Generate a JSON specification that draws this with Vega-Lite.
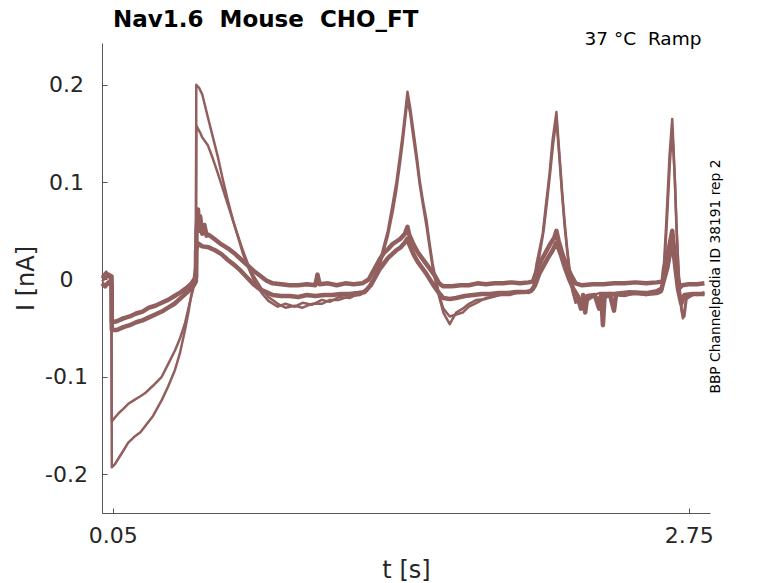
{
  "$schema": "https://vega.github.io/schema/vega-lite/v6.json",
  "description": "Nav1.6 Mouse CHO_FT ramp protocol current traces",
  "width": 608,
  "height": 470,
  "autosize": {"type": "none"},
  "padding": {"left": 102, "top": 43, "right": 68, "bottom": 70},
  "title": {
    "text": "Nav1.6 \u00a0Mouse \u00a0CHO_FT",
    "anchor": "start",
    "frame": "group",
    "dx": 11,
    "dy": 14,
    "offset": 12,
    "font": "DejaVu Sans",
    "fontSize": 23,
    "fontWeight": "bold",
    "color": "#000000"
  },
  "config": {
    "view": {"stroke": null},
    "font": "DejaVu Sans",
    "axis": {
      "grid": false,
      "domainColor": "#555555",
      "tickColor": "#555555",
      "tickSize": -5,
      "labelColor": "#262626",
      "titleColor": "#262626",
      "labelFont": "DejaVu Sans",
      "titleFont": "DejaVu Sans",
      "labelFontSize": 22,
      "titleFontSize": 24,
      "titleFontWeight": "normal"
    }
  },
  "datasets": {
    "notes": [
      {"label": "37 °C \u00a0Ramp", "kind": "condition"},
      {"label": "BBP Channelpedia ID 38191 rep 2", "kind": "source"}
    ],
    "traces": [
      {"trace": "S1", "t": 0, "i": 0.004}, {"trace": "S1", "t": 0.015, "i": 0.002}, {"trace": "S1", "t": 0.03, "i": 0.005},
      {"trace": "S1", "t": 0.045, "i": 0.003}, {"trace": "S1", "t": 0.046, "i": -0.044}, {"trace": "S1", "t": 0.07, "i": -0.043},
      {"trace": "S1", "t": 0.1, "i": -0.04}, {"trace": "S1", "t": 0.13, "i": -0.038}, {"trace": "S1", "t": 0.16, "i": -0.035},
      {"trace": "S1", "t": 0.19, "i": -0.033}, {"trace": "S1", "t": 0.22, "i": -0.029}, {"trace": "S1", "t": 0.25, "i": -0.027},
      {"trace": "S1", "t": 0.28, "i": -0.024}, {"trace": "S1", "t": 0.31, "i": -0.021}, {"trace": "S1", "t": 0.34, "i": -0.017},
      {"trace": "S1", "t": 0.37, "i": -0.013}, {"trace": "S1", "t": 0.4, "i": -0.008}, {"trace": "S1", "t": 0.42, "i": -0.004},
      {"trace": "S1", "t": 0.435, "i": 0.001}, {"trace": "S1", "t": 0.44, "i": 0.01}, {"trace": "S1", "t": 0.441, "i": 0.002},
      {"trace": "S1", "t": 0.443, "i": 0.05}, {"trace": "S1", "t": 0.45, "i": 0.072}, {"trace": "S1", "t": 0.455, "i": 0.05},
      {"trace": "S1", "t": 0.46, "i": 0.065}, {"trace": "S1", "t": 0.47, "i": 0.047}, {"trace": "S1", "t": 0.48, "i": 0.056},
      {"trace": "S1", "t": 0.49, "i": 0.045}, {"trace": "S1", "t": 0.5, "i": 0.046}, {"trace": "S1", "t": 0.53, "i": 0.041},
      {"trace": "S1", "t": 0.56, "i": 0.036}, {"trace": "S1", "t": 0.59, "i": 0.032}, {"trace": "S1", "t": 0.62, "i": 0.027},
      {"trace": "S1", "t": 0.65, "i": 0.021}, {"trace": "S1", "t": 0.68, "i": 0.015}, {"trace": "S1", "t": 0.71, "i": 0.009},
      {"trace": "S1", "t": 0.74, "i": 0.004}, {"trace": "S1", "t": 0.77, "i": -0.001}, {"trace": "S1", "t": 0.8, "i": -0.004},
      {"trace": "S1", "t": 0.84, "i": -0.005}, {"trace": "S1", "t": 0.88, "i": -0.006}, {"trace": "S1", "t": 0.92, "i": -0.006},
      {"trace": "S1", "t": 0.96, "i": -0.005}, {"trace": "S1", "t": 1.0, "i": -0.006}, {"trace": "S1", "t": 1.01, "i": 0.005},
      {"trace": "S1", "t": 1.02, "i": -0.005}, {"trace": "S1", "t": 1.06, "i": -0.004}, {"trace": "S1", "t": 1.1, "i": -0.006},
      {"trace": "S1", "t": 1.14, "i": -0.004}, {"trace": "S1", "t": 1.18, "i": -0.005}, {"trace": "S1", "t": 1.22, "i": -0.004},
      {"trace": "S1", "t": 1.25, "i": 0.0}, {"trace": "S1", "t": 1.28, "i": 0.012}, {"trace": "S1", "t": 1.3, "i": 0.02},
      {"trace": "S1", "t": 1.32, "i": 0.027}, {"trace": "S1", "t": 1.34, "i": 0.031}, {"trace": "S1", "t": 1.36, "i": 0.036},
      {"trace": "S1", "t": 1.38, "i": 0.039}, {"trace": "S1", "t": 1.4, "i": 0.042}, {"trace": "S1", "t": 1.42, "i": 0.047},
      {"trace": "S1", "t": 1.432, "i": 0.054}, {"trace": "S1", "t": 1.44, "i": 0.046}, {"trace": "S1", "t": 1.46, "i": 0.036},
      {"trace": "S1", "t": 1.48, "i": 0.028}, {"trace": "S1", "t": 1.5, "i": 0.022}, {"trace": "S1", "t": 1.52, "i": 0.016},
      {"trace": "S1", "t": 1.54, "i": 0.01}, {"trace": "S1", "t": 1.56, "i": 0.004}, {"trace": "S1", "t": 1.58, "i": -0.004},
      {"trace": "S1", "t": 1.6, "i": -0.007}, {"trace": "S1", "t": 1.64, "i": -0.007}, {"trace": "S1", "t": 1.68, "i": -0.006},
      {"trace": "S1", "t": 1.72, "i": -0.006}, {"trace": "S1", "t": 1.76, "i": -0.004}, {"trace": "S1", "t": 1.8, "i": -0.005},
      {"trace": "S1", "t": 1.84, "i": -0.004}, {"trace": "S1", "t": 1.88, "i": -0.004}, {"trace": "S1", "t": 1.92, "i": -0.003},
      {"trace": "S1", "t": 1.96, "i": -0.004}, {"trace": "S1", "t": 2.0, "i": -0.003}, {"trace": "S1", "t": 2.02, "i": -0.002},
      {"trace": "S1", "t": 2.036, "i": 0.008}, {"trace": "S1", "t": 2.06, "i": 0.02}, {"trace": "S1", "t": 2.08, "i": 0.028},
      {"trace": "S1", "t": 2.1, "i": 0.036}, {"trace": "S1", "t": 2.12, "i": 0.043}, {"trace": "S1", "t": 2.13, "i": 0.05},
      {"trace": "S1", "t": 2.14, "i": 0.04}, {"trace": "S1", "t": 2.16, "i": 0.025}, {"trace": "S1", "t": 2.18, "i": 0.013},
      {"trace": "S1", "t": 2.2, "i": 0.004}, {"trace": "S1", "t": 2.22, "i": -0.004}, {"trace": "S1", "t": 2.25, "i": -0.006},
      {"trace": "S1", "t": 2.3, "i": -0.005}, {"trace": "S1", "t": 2.35, "i": -0.005}, {"trace": "S1", "t": 2.4, "i": -0.004},
      {"trace": "S1", "t": 2.45, "i": -0.004}, {"trace": "S1", "t": 2.5, "i": -0.003}, {"trace": "S1", "t": 2.55, "i": -0.004},
      {"trace": "S1", "t": 2.6, "i": -0.003}, {"trace": "S1", "t": 2.628, "i": -0.002}, {"trace": "S1", "t": 2.635, "i": 0.012},
      {"trace": "S1", "t": 2.65, "i": 0.024}, {"trace": "S1", "t": 2.66, "i": 0.035}, {"trace": "S1", "t": 2.673, "i": 0.05},
      {"trace": "S1", "t": 2.68, "i": 0.035}, {"trace": "S1", "t": 2.69, "i": 0.015}, {"trace": "S1", "t": 2.7, "i": 0.0},
      {"trace": "S1", "t": 2.71, "i": -0.008}, {"trace": "S1", "t": 2.72, "i": -0.006}, {"trace": "S1", "t": 2.75, "i": -0.005},
      {"trace": "S1", "t": 2.79, "i": -0.005}, {"trace": "S1", "t": 2.824, "i": -0.004},

      {"trace": "S2", "t": 0, "i": -0.004}, {"trace": "S2", "t": 0.015, "i": -0.007}, {"trace": "S2", "t": 0.03, "i": -0.003},
      {"trace": "S2", "t": 0.045, "i": -0.006}, {"trace": "S2", "t": 0.046, "i": -0.052}, {"trace": "S2", "t": 0.07, "i": -0.052},
      {"trace": "S2", "t": 0.1, "i": -0.049}, {"trace": "S2", "t": 0.13, "i": -0.047}, {"trace": "S2", "t": 0.16, "i": -0.044},
      {"trace": "S2", "t": 0.19, "i": -0.042}, {"trace": "S2", "t": 0.22, "i": -0.039}, {"trace": "S2", "t": 0.25, "i": -0.036},
      {"trace": "S2", "t": 0.28, "i": -0.033}, {"trace": "S2", "t": 0.31, "i": -0.029}, {"trace": "S2", "t": 0.34, "i": -0.025},
      {"trace": "S2", "t": 0.37, "i": -0.019}, {"trace": "S2", "t": 0.4, "i": -0.013}, {"trace": "S2", "t": 0.43, "i": -0.006},
      {"trace": "S2", "t": 0.44, "i": -0.002}, {"trace": "S2", "t": 0.441, "i": 0.03}, {"trace": "S2", "t": 0.45, "i": 0.037},
      {"trace": "S2", "t": 0.47, "i": 0.034}, {"trace": "S2", "t": 0.5, "i": 0.033}, {"trace": "S2", "t": 0.53, "i": 0.03},
      {"trace": "S2", "t": 0.56, "i": 0.026}, {"trace": "S2", "t": 0.59, "i": 0.02}, {"trace": "S2", "t": 0.62, "i": 0.015},
      {"trace": "S2", "t": 0.65, "i": 0.009}, {"trace": "S2", "t": 0.68, "i": 0.002}, {"trace": "S2", "t": 0.71, "i": -0.005},
      {"trace": "S2", "t": 0.74, "i": -0.01}, {"trace": "S2", "t": 0.77, "i": -0.013}, {"trace": "S2", "t": 0.8, "i": -0.016},
      {"trace": "S2", "t": 0.84, "i": -0.017}, {"trace": "S2", "t": 0.88, "i": -0.017}, {"trace": "S2", "t": 0.92, "i": -0.018},
      {"trace": "S2", "t": 0.96, "i": -0.016}, {"trace": "S2", "t": 1.0, "i": -0.017}, {"trace": "S2", "t": 1.04, "i": -0.016},
      {"trace": "S2", "t": 1.08, "i": -0.016}, {"trace": "S2", "t": 1.12, "i": -0.015}, {"trace": "S2", "t": 1.16, "i": -0.015},
      {"trace": "S2", "t": 1.2, "i": -0.014}, {"trace": "S2", "t": 1.23, "i": -0.013}, {"trace": "S2", "t": 1.26, "i": -0.006},
      {"trace": "S2", "t": 1.28, "i": 0.002}, {"trace": "S2", "t": 1.3, "i": 0.01}, {"trace": "S2", "t": 1.32, "i": 0.016},
      {"trace": "S2", "t": 1.34, "i": 0.022}, {"trace": "S2", "t": 1.36, "i": 0.026}, {"trace": "S2", "t": 1.38, "i": 0.03},
      {"trace": "S2", "t": 1.4, "i": 0.033}, {"trace": "S2", "t": 1.42, "i": 0.038}, {"trace": "S2", "t": 1.432, "i": 0.042},
      {"trace": "S2", "t": 1.44, "i": 0.036}, {"trace": "S2", "t": 1.46, "i": 0.026}, {"trace": "S2", "t": 1.48, "i": 0.018},
      {"trace": "S2", "t": 1.5, "i": 0.012}, {"trace": "S2", "t": 1.52, "i": 0.006}, {"trace": "S2", "t": 1.54, "i": -0.001},
      {"trace": "S2", "t": 1.56, "i": -0.008}, {"trace": "S2", "t": 1.58, "i": -0.014}, {"trace": "S2", "t": 1.6, "i": -0.019},
      {"trace": "S2", "t": 1.63, "i": -0.02}, {"trace": "S2", "t": 1.66, "i": -0.019}, {"trace": "S2", "t": 1.7, "i": -0.017},
      {"trace": "S2", "t": 1.74, "i": -0.016}, {"trace": "S2", "t": 1.78, "i": -0.015}, {"trace": "S2", "t": 1.82, "i": -0.015},
      {"trace": "S2", "t": 1.86, "i": -0.014}, {"trace": "S2", "t": 1.9, "i": -0.014}, {"trace": "S2", "t": 1.94, "i": -0.013},
      {"trace": "S2", "t": 1.98, "i": -0.013}, {"trace": "S2", "t": 2.01, "i": -0.012}, {"trace": "S2", "t": 2.03, "i": -0.006},
      {"trace": "S2", "t": 2.05, "i": 0.006}, {"trace": "S2", "t": 2.07, "i": 0.014}, {"trace": "S2", "t": 2.09, "i": 0.022},
      {"trace": "S2", "t": 2.11, "i": 0.029}, {"trace": "S2", "t": 2.13, "i": 0.038}, {"trace": "S2", "t": 2.15, "i": 0.026},
      {"trace": "S2", "t": 2.17, "i": 0.012}, {"trace": "S2", "t": 2.19, "i": 0.0}, {"trace": "S2", "t": 2.21, "i": -0.01},
      {"trace": "S2", "t": 2.23, "i": -0.017}, {"trace": "S2", "t": 2.245, "i": -0.03}, {"trace": "S2", "t": 2.255, "i": -0.016},
      {"trace": "S2", "t": 2.265, "i": -0.034}, {"trace": "S2", "t": 2.275, "i": -0.017}, {"trace": "S2", "t": 2.31, "i": -0.016},
      {"trace": "S2", "t": 2.33, "i": -0.03}, {"trace": "S2", "t": 2.34, "i": -0.016}, {"trace": "S2", "t": 2.348, "i": -0.047},
      {"trace": "S2", "t": 2.356, "i": -0.016}, {"trace": "S2", "t": 2.38, "i": -0.015}, {"trace": "S2", "t": 2.4, "i": -0.032},
      {"trace": "S2", "t": 2.41, "i": -0.015}, {"trace": "S2", "t": 2.45, "i": -0.015}, {"trace": "S2", "t": 2.5, "i": -0.014},
      {"trace": "S2", "t": 2.55, "i": -0.015}, {"trace": "S2", "t": 2.6, "i": -0.014}, {"trace": "S2", "t": 2.62, "i": -0.012},
      {"trace": "S2", "t": 2.635, "i": 0.0}, {"trace": "S2", "t": 2.65, "i": 0.012}, {"trace": "S2", "t": 2.673, "i": 0.04},
      {"trace": "S2", "t": 2.69, "i": 0.008}, {"trace": "S2", "t": 2.7, "i": -0.01}, {"trace": "S2", "t": 2.715, "i": -0.025},
      {"trace": "S2", "t": 2.73, "i": -0.016}, {"trace": "S2", "t": 2.77, "i": -0.015}, {"trace": "S2", "t": 2.824, "i": -0.015},

      {"trace": "L1", "t": 0, "i": 0.003}, {"trace": "L1", "t": 0.02, "i": 0.008}, {"trace": "L1", "t": 0.044, "i": 0.0},
      {"trace": "L1", "t": 0.046, "i": -0.193}, {"trace": "L1", "t": 0.06, "i": -0.19}, {"trace": "L1", "t": 0.08, "i": -0.183},
      {"trace": "L1", "t": 0.1, "i": -0.176}, {"trace": "L1", "t": 0.122, "i": -0.168}, {"trace": "L1", "t": 0.15, "i": -0.162},
      {"trace": "L1", "t": 0.18, "i": -0.157}, {"trace": "L1", "t": 0.201, "i": -0.151}, {"trace": "L1", "t": 0.24, "i": -0.14},
      {"trace": "L1", "t": 0.28, "i": -0.124}, {"trace": "L1", "t": 0.31, "i": -0.11}, {"trace": "L1", "t": 0.342, "i": -0.093},
      {"trace": "L1", "t": 0.365, "i": -0.076}, {"trace": "L1", "t": 0.389, "i": -0.052}, {"trace": "L1", "t": 0.405, "i": -0.034},
      {"trace": "L1", "t": 0.42, "i": -0.014}, {"trace": "L1", "t": 0.436, "i": 0.0}, {"trace": "L1", "t": 0.44, "i": 0.002},
      {"trace": "L1", "t": 0.442, "i": 0.2}, {"trace": "L1", "t": 0.455, "i": 0.197}, {"trace": "L1", "t": 0.47, "i": 0.19},
      {"trace": "L1", "t": 0.496, "i": 0.167}, {"trace": "L1", "t": 0.52, "i": 0.146}, {"trace": "L1", "t": 0.543, "i": 0.126},
      {"trace": "L1", "t": 0.565, "i": 0.104}, {"trace": "L1", "t": 0.59, "i": 0.081}, {"trace": "L1", "t": 0.615, "i": 0.06},
      {"trace": "L1", "t": 0.637, "i": 0.044}, {"trace": "L1", "t": 0.66, "i": 0.027}, {"trace": "L1", "t": 0.684, "i": 0.013},
      {"trace": "L1", "t": 0.71, "i": 0.0}, {"trace": "L1", "t": 0.749, "i": -0.014}, {"trace": "L1", "t": 0.78, "i": -0.022},
      {"trace": "L1", "t": 0.824, "i": -0.028}, {"trace": "L1", "t": 0.86, "i": -0.025}, {"trace": "L1", "t": 0.904, "i": -0.028},
      {"trace": "L1", "t": 0.94, "i": -0.024}, {"trace": "L1", "t": 0.984, "i": -0.026}, {"trace": "L1", "t": 1.03, "i": -0.021},
      {"trace": "L1", "t": 1.068, "i": -0.023}, {"trace": "L1", "t": 1.11, "i": -0.018}, {"trace": "L1", "t": 1.162, "i": -0.019},
      {"trace": "L1", "t": 1.21, "i": -0.014}, {"trace": "L1", "t": 1.241, "i": -0.01}, {"trace": "L1", "t": 1.27, "i": 0.0},
      {"trace": "L1", "t": 1.3, "i": 0.015}, {"trace": "L1", "t": 1.316, "i": 0.03}, {"trace": "L1", "t": 1.34, "i": 0.05},
      {"trace": "L1", "t": 1.363, "i": 0.078}, {"trace": "L1", "t": 1.38, "i": 0.1}, {"trace": "L1", "t": 1.396, "i": 0.126},
      {"trace": "L1", "t": 1.41, "i": 0.15}, {"trace": "L1", "t": 1.419, "i": 0.167}, {"trace": "L1", "t": 1.432, "i": 0.193},
      {"trace": "L1", "t": 1.445, "i": 0.176}, {"trace": "L1", "t": 1.457, "i": 0.157}, {"trace": "L1", "t": 1.475, "i": 0.128},
      {"trace": "L1", "t": 1.489, "i": 0.102}, {"trace": "L1", "t": 1.505, "i": 0.08}, {"trace": "L1", "t": 1.521, "i": 0.061},
      {"trace": "L1", "t": 1.535, "i": 0.038}, {"trace": "L1", "t": 1.55, "i": 0.016}, {"trace": "L1", "t": 1.565, "i": 0.0},
      {"trace": "L1", "t": 1.583, "i": -0.018}, {"trace": "L1", "t": 1.6, "i": -0.03}, {"trace": "L1", "t": 1.63, "i": -0.038},
      {"trace": "L1", "t": 1.66, "i": -0.036}, {"trace": "L1", "t": 1.691, "i": -0.034}, {"trace": "L1", "t": 1.72, "i": -0.028},
      {"trace": "L1", "t": 1.756, "i": -0.024}, {"trace": "L1", "t": 1.8, "i": -0.019}, {"trace": "L1", "t": 1.864, "i": -0.016},
      {"trace": "L1", "t": 1.91, "i": -0.014}, {"trace": "L1", "t": 1.958, "i": -0.014}, {"trace": "L1", "t": 2.0, "i": -0.012},
      {"trace": "L1", "t": 2.02, "i": -0.01}, {"trace": "L1", "t": 2.036, "i": 0.015}, {"trace": "L1", "t": 2.05, "i": 0.03},
      {"trace": "L1", "t": 2.066, "i": 0.047}, {"trace": "L1", "t": 2.08, "i": 0.075}, {"trace": "L1", "t": 2.098, "i": 0.109},
      {"trace": "L1", "t": 2.112, "i": 0.143}, {"trace": "L1", "t": 2.13, "i": 0.172}, {"trace": "L1", "t": 2.145, "i": 0.126},
      {"trace": "L1", "t": 2.157, "i": 0.09}, {"trace": "L1", "t": 2.169, "i": 0.058}, {"trace": "L1", "t": 2.18, "i": 0.033},
      {"trace": "L1", "t": 2.192, "i": 0.01}, {"trace": "L1", "t": 2.205, "i": -0.008}, {"trace": "L1", "t": 2.215, "i": -0.018},
      {"trace": "L1", "t": 2.239, "i": -0.026}, {"trace": "L1", "t": 2.26, "i": -0.02}, {"trace": "L1", "t": 2.3, "i": -0.016},
      {"trace": "L1", "t": 2.333, "i": -0.014}, {"trace": "L1", "t": 2.4, "i": -0.014}, {"trace": "L1", "t": 2.473, "i": -0.012},
      {"trace": "L1", "t": 2.55, "i": -0.013}, {"trace": "L1", "t": 2.6, "i": -0.011}, {"trace": "L1", "t": 2.625, "i": -0.008},
      {"trace": "L1", "t": 2.632, "i": 0.008}, {"trace": "L1", "t": 2.645, "i": 0.058}, {"trace": "L1", "t": 2.66, "i": 0.126},
      {"trace": "L1", "t": 2.673, "i": 0.165}, {"trace": "L1", "t": 2.684, "i": 0.109}, {"trace": "L1", "t": 2.692, "i": 0.058},
      {"trace": "L1", "t": 2.7, "i": 0.02}, {"trace": "L1", "t": 2.707, "i": -0.011}, {"trace": "L1", "t": 2.715, "i": -0.03},
      {"trace": "L1", "t": 2.723, "i": -0.04}, {"trace": "L1", "t": 2.731, "i": -0.03}, {"trace": "L1", "t": 2.739, "i": -0.018},
      {"trace": "L1", "t": 2.76, "i": -0.015}, {"trace": "L1", "t": 2.79, "i": -0.016}, {"trace": "L1", "t": 2.824, "i": -0.013},

      {"trace": "L2", "t": 0, "i": -0.002}, {"trace": "L2", "t": 0.03, "i": 0.004}, {"trace": "L2", "t": 0.044, "i": -0.003},
      {"trace": "L2", "t": 0.046, "i": -0.146}, {"trace": "L2", "t": 0.06, "i": -0.142}, {"trace": "L2", "t": 0.08, "i": -0.137},
      {"trace": "L2", "t": 0.1, "i": -0.133}, {"trace": "L2", "t": 0.122, "i": -0.128}, {"trace": "L2", "t": 0.15, "i": -0.124},
      {"trace": "L2", "t": 0.18, "i": -0.12}, {"trace": "L2", "t": 0.201, "i": -0.117}, {"trace": "L2", "t": 0.24, "i": -0.109},
      {"trace": "L2", "t": 0.28, "i": -0.1}, {"trace": "L2", "t": 0.31, "i": -0.087}, {"trace": "L2", "t": 0.342, "i": -0.073},
      {"trace": "L2", "t": 0.365, "i": -0.061}, {"trace": "L2", "t": 0.389, "i": -0.045}, {"trace": "L2", "t": 0.41, "i": -0.025},
      {"trace": "L2", "t": 0.426, "i": -0.011}, {"trace": "L2", "t": 0.44, "i": 0.0}, {"trace": "L2", "t": 0.442, "i": 0.158},
      {"trace": "L2", "t": 0.46, "i": 0.151}, {"trace": "L2", "t": 0.47, "i": 0.146}, {"trace": "L2", "t": 0.496, "i": 0.138},
      {"trace": "L2", "t": 0.52, "i": 0.124}, {"trace": "L2", "t": 0.543, "i": 0.109}, {"trace": "L2", "t": 0.565, "i": 0.094},
      {"trace": "L2", "t": 0.59, "i": 0.077}, {"trace": "L2", "t": 0.615, "i": 0.06}, {"trace": "L2", "t": 0.637, "i": 0.045},
      {"trace": "L2", "t": 0.66, "i": 0.03}, {"trace": "L2", "t": 0.684, "i": 0.016}, {"trace": "L2", "t": 0.71, "i": 0.004},
      {"trace": "L2", "t": 0.749, "i": -0.01}, {"trace": "L2", "t": 0.78, "i": -0.018}, {"trace": "L2", "t": 0.824, "i": -0.025},
      {"trace": "L2", "t": 0.86, "i": -0.029}, {"trace": "L2", "t": 0.904, "i": -0.027}, {"trace": "L2", "t": 0.94, "i": -0.029},
      {"trace": "L2", "t": 0.984, "i": -0.025}, {"trace": "L2", "t": 1.03, "i": -0.025}, {"trace": "L2", "t": 1.068, "i": -0.021},
      {"trace": "L2", "t": 1.11, "i": -0.021}, {"trace": "L2", "t": 1.162, "i": -0.017}, {"trace": "L2", "t": 1.21, "i": -0.016},
      {"trace": "L2", "t": 1.241, "i": -0.012}, {"trace": "L2", "t": 1.27, "i": -0.002}, {"trace": "L2", "t": 1.3, "i": 0.012},
      {"trace": "L2", "t": 1.316, "i": 0.026}, {"trace": "L2", "t": 1.34, "i": 0.045}, {"trace": "L2", "t": 1.363, "i": 0.07},
      {"trace": "L2", "t": 1.38, "i": 0.092}, {"trace": "L2", "t": 1.396, "i": 0.118}, {"trace": "L2", "t": 1.41, "i": 0.142},
      {"trace": "L2", "t": 1.419, "i": 0.16}, {"trace": "L2", "t": 1.432, "i": 0.185}, {"trace": "L2", "t": 1.445, "i": 0.17},
      {"trace": "L2", "t": 1.457, "i": 0.15}, {"trace": "L2", "t": 1.475, "i": 0.122}, {"trace": "L2", "t": 1.489, "i": 0.098},
      {"trace": "L2", "t": 1.505, "i": 0.076}, {"trace": "L2", "t": 1.521, "i": 0.055}, {"trace": "L2", "t": 1.535, "i": 0.034},
      {"trace": "L2", "t": 1.55, "i": 0.012}, {"trace": "L2", "t": 1.565, "i": -0.004}, {"trace": "L2", "t": 1.583, "i": -0.02},
      {"trace": "L2", "t": 1.6, "i": -0.034}, {"trace": "L2", "t": 1.63, "i": -0.046}, {"trace": "L2", "t": 1.66, "i": -0.034},
      {"trace": "L2", "t": 1.691, "i": -0.03}, {"trace": "L2", "t": 1.72, "i": -0.025}, {"trace": "L2", "t": 1.756, "i": -0.021},
      {"trace": "L2", "t": 1.8, "i": -0.02}, {"trace": "L2", "t": 1.864, "i": -0.016}, {"trace": "L2", "t": 1.91, "i": -0.016},
      {"trace": "L2", "t": 1.958, "i": -0.013}, {"trace": "L2", "t": 2.0, "i": -0.014}, {"trace": "L2", "t": 2.025, "i": -0.01},
      {"trace": "L2", "t": 2.04, "i": 0.012}, {"trace": "L2", "t": 2.055, "i": 0.03}, {"trace": "L2", "t": 2.07, "i": 0.05},
      {"trace": "L2", "t": 2.085, "i": 0.078}, {"trace": "L2", "t": 2.1, "i": 0.108}, {"trace": "L2", "t": 2.115, "i": 0.14},
      {"trace": "L2", "t": 2.13, "i": 0.165}, {"trace": "L2", "t": 2.145, "i": 0.122}, {"trace": "L2", "t": 2.157, "i": 0.086},
      {"trace": "L2", "t": 2.169, "i": 0.054}, {"trace": "L2", "t": 2.18, "i": 0.03}, {"trace": "L2", "t": 2.192, "i": 0.006},
      {"trace": "L2", "t": 2.205, "i": -0.012}, {"trace": "L2", "t": 2.22, "i": -0.024}, {"trace": "L2", "t": 2.24, "i": -0.02},
      {"trace": "L2", "t": 2.26, "i": -0.024}, {"trace": "L2", "t": 2.3, "i": -0.018}, {"trace": "L2", "t": 2.35, "i": -0.019},
      {"trace": "L2", "t": 2.4, "i": -0.016}, {"trace": "L2", "t": 2.45, "i": -0.017}, {"trace": "L2", "t": 2.5, "i": -0.014},
      {"trace": "L2", "t": 2.55, "i": -0.016}, {"trace": "L2", "t": 2.6, "i": -0.013}, {"trace": "L2", "t": 2.628, "i": -0.01},
      {"trace": "L2", "t": 2.636, "i": 0.01}, {"trace": "L2", "t": 2.648, "i": 0.06}, {"trace": "L2", "t": 2.662, "i": 0.12},
      {"trace": "L2", "t": 2.673, "i": 0.155}, {"trace": "L2", "t": 2.686, "i": 0.1}, {"trace": "L2", "t": 2.694, "i": 0.05},
      {"trace": "L2", "t": 2.702, "i": 0.012}, {"trace": "L2", "t": 2.71, "i": -0.015}, {"trace": "L2", "t": 2.72, "i": -0.035},
      {"trace": "L2", "t": 2.73, "i": -0.038}, {"trace": "L2", "t": 2.74, "i": -0.02}, {"trace": "L2", "t": 2.77, "i": -0.016},
      {"trace": "L2", "t": 2.8, "i": -0.014}, {"trace": "L2", "t": 2.824, "i": -0.016}
    ]
  },
  "layer": [
    {
      "data": {"name": "traces"},
      "transform": [{"filter": "indexof(datum.trace, 'S') == 0"}],
      "mark": {"type": "line", "color": "#925f5f", "strokeWidth": 4.5, "strokeJoin": "round"},
      "encoding": {
        "x": {
          "field": "t",
          "type": "quantitative",
          "title": "t [s]",
          "scale": {"domain": [0, 2.85], "nice": false, "zero": false},
          "axis": {
            "values": [0.05, 2.75],
            "labelExpr": "toString(datum.value)",
            "labelPadding": 17,
            "titlePadding": 12
          }
        },
        "y": {
          "field": "i",
          "type": "quantitative",
          "title": "I [nA]",
          "scale": {"domain": [-0.24, 0.243], "nice": false, "zero": false},
          "axis": {
            "values": [-0.2, -0.1, 0, 0.1, 0.2],
            "labelExpr": "toString(datum.value)",
            "labelAlign": "center",
            "labelPadding": 41,
            "titlePadding": 6
          }
        },
        "detail": {"field": "trace", "type": "nominal"}
      }
    },
    {
      "data": {"name": "traces"},
      "transform": [{"filter": "indexof(datum.trace, 'L') == 0"}],
      "mark": {"type": "line", "color": "#925f5f", "strokeWidth": 2.5, "strokeJoin": "round"},
      "encoding": {
        "x": {"field": "t", "type": "quantitative"},
        "y": {"field": "i", "type": "quantitative"},
        "detail": {"field": "trace", "type": "nominal"}
      }
    },
    {
      "data": {"name": "notes"},
      "transform": [{"filter": "datum.kind == 'condition'"}],
      "mark": {"type": "text", "align": "right", "baseline": "alphabetic", "fontSize": 18.5, "fill": "#000000"},
      "encoding": {
        "x": {"datum": 2.81},
        "y": {"datum": 0.241},
        "text": {"field": "label"}
      }
    },
    {
      "data": {"name": "notes"},
      "transform": [{"filter": "datum.kind == 'source'"}],
      "mark": {"type": "text", "align": "center", "baseline": "middle", "angle": 270, "fontSize": 13.8, "fill": "#000000"},
      "encoding": {
        "x": {"datum": 2.876},
        "y": {"datum": 0.003},
        "text": {"field": "label"}
      }
    }
  ]
}
